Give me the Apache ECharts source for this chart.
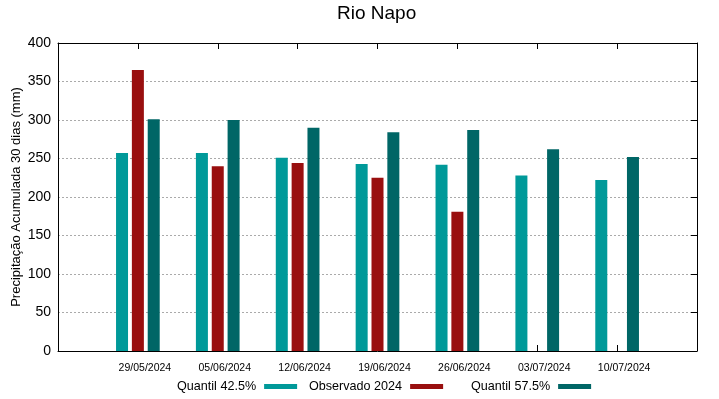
<!DOCTYPE html>
<html>
<head>
<meta charset="utf-8">
<script src="https://cdn.jsdelivr.net/npm/echarts@6/dist/echarts.min.js"></script>
<style>
  html, body { margin: 0; padding: 0; background: #fff; }
  #chart { width: 719px; height: 399px; }
</style>
</head>
<body>
<div id="chart"></div>
<script>
const datas = ["29/05/2024", "05/06/2024", "12/06/2024", "19/06/2024", "26/06/2024", "03/07/2024", "10/07/2024"];
const quantil425 = [257, 257, 251, 243, 242, 228, 222];
const observado = [365, 240, 244, 225, 181, null, null];
const quantil575 = [301, 300, 290, 284, 287, 262, 252];
const yTicks = [0, 50, 100, 150, 200, 250, 300, 350, 400];

// gnuplot style: one empty slot on each side of the dates
const pad = (arr) => [null, ...arr, null];
const cats = ["", ...datas, ""];

const chart = echarts.init(document.getElementById("chart"));
const font = "Liberation Sans";

const barSeries = (name, data, color) => ({
  name: name,
  type: "bar",
  data: pad(data),
  barWidth: 12,
  barGap: "32%",
  itemStyle: { color: color },
  silent: true,
});

const legendAt = (name, left) => ({
  top: 380,
  left: left,
  padding: 0,
  align: "right",
  itemWidth: 33,
  itemHeight: 5,
  icon: "rect",
  textStyle: { fontFamily: font, fontSize: 12.6, color: "#000", padding: [0, 3, 0, 0] },
  data: [name],
});

const tick = { show: true, inside: true, length: 6, interval: 0, lineStyle: { color: "#000" } };

chart.setOption({
  animation: false,
  textStyle: { fontFamily: font },
  title: {
    text: "Rio Napo",
    left: 337,
    top: 4,
    padding: 0,
    textStyle: { fontFamily: font, fontSize: 19, fontWeight: "normal", color: "#000" },
  },
  legend: [
    legendAt("Quantil 42.5%", 177),
    legendAt("Observado 2024", 309),
    legendAt("Quantil 57.5%", 471),
  ],
  grid: { left: 58, right: 22, top: 43, bottom: 48, containLabel: false, outerBoundsMode: "none" },
  xAxis: [
    {
      type: "category",
      data: cats,
      boundaryGap: false,
      axisLine: { onZero: false, lineStyle: { color: "#000", width: 1 } },
      axisTick: tick,
      axisLabel: { interval: 0, fontSize: 10.5, color: "#000", margin: 12, padding: [0, 0, 0, 14] },
      splitLine: { show: false },
    },
    {
      type: "category",
      data: cats,
      position: "top",
      boundaryGap: false,
      axisLine: { onZero: false, lineStyle: { color: "#000", width: 1 } },
      axisTick: tick,
      axisLabel: { show: false },
    },
  ],
  yAxis: [
    {
      type: "value",
      min: 0,
      max: 400,
      interval: 50,
      name: "Precipitação Acumulada 30 dias (mm)",
      nameLocation: "middle",
      nameGap: 35,
      nameMoveOverlap: false,
      nameTextStyle: { fontFamily: font, fontSize: 13, color: "#000" },
      axisLine: { show: true, onZero: false, lineStyle: { color: "#000" } },
      axisTick: { show: false },
      axisLabel: {
        fontSize: 14,
        color: "#000",
        margin: 7,
        formatter: (v) => (yTicks.includes(v) ? String(v) : ""),
      },
      splitLine: { show: true, lineStyle: { color: "#aaa", type: [2, 2], width: 1 } },
    },
    {
      type: "value",
      min: 0,
      max: 400,
      interval: 50,
      position: "right",
      axisLine: { show: true, onZero: false, lineStyle: { color: "#000" } },
      axisTick: { show: true, inside: true, length: 6, lineStyle: { color: "#000" } },
      axisLabel: { show: false },
      splitLine: { show: false },
    },
  ],
  series: [
    barSeries("Quantil 42.5%", quantil425, "#009999"),
    barSeries("Observado 2024", observado, "#990f0f"),
    barSeries("Quantil 57.5%", quantil575, "#006666"),
  ],
});
</script>
</body>
</html>
